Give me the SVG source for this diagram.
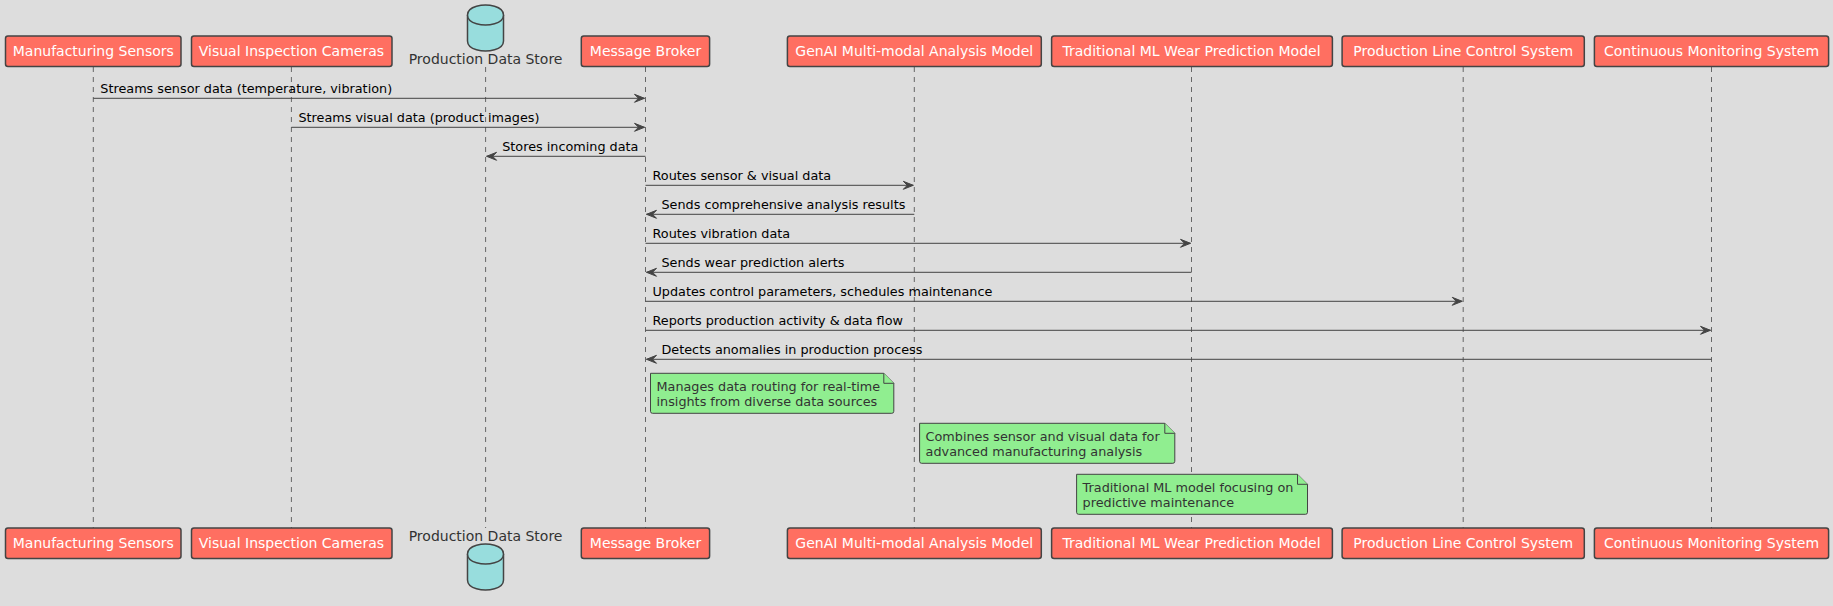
<svg xmlns="http://www.w3.org/2000/svg" width="1833" height="606" viewBox="0 0 1833 606">
<style>
.bg{fill:#DDDDDD}
.part rect{fill:#FF6F61;stroke:#444444;stroke-width:1.5}
.part text{font-family:"DejaVu Sans",sans-serif;font-size:14px;fill:#FFFFFF;text-anchor:middle}
.db path{fill:#98DDDD;stroke:#444444;stroke-width:1.5}
.db text{font-family:"DejaVu Sans",sans-serif;font-size:14px;fill:#333333;text-anchor:middle}
.life{stroke:#666666;stroke-width:1;stroke-dasharray:5,5}
.msg line{stroke:#444444;stroke-width:1;marker-end:url(#ah)}
.msg text{font-family:"DejaVu Sans",sans-serif;font-size:12.8px;fill:#000000}
.note path{fill:#90EE90;stroke:#444444;stroke-width:1}
.note text{font-family:"DejaVu Sans",sans-serif;font-size:12.8px;fill:#333333}
</style>
<defs>
<marker id="ah" markerUnits="userSpaceOnUse" markerWidth="11" markerHeight="9" refX="10" refY="4" orient="auto" overflow="visible">
<path d="M0,0 L10,4 L0,8 L4,4 Z" fill="#444444" stroke="#444444" stroke-width="1"/>
</marker>
</defs>
<rect class="bg" x="0" y="0" width="1833" height="606"/>

<g id="lifelines">
<line class="life" x1="93.3" y1="67" x2="93.3" y2="528"/>
<line class="life" x1="291.4" y1="67" x2="291.4" y2="528"/>
<line class="life" x1="485.6" y1="67" x2="485.6" y2="528"/>
<line class="life" x1="645.5" y1="67" x2="645.5" y2="528"/>
<line class="life" x1="914.3" y1="67" x2="914.3" y2="528"/>
<line class="life" x1="1191.5" y1="67" x2="1191.5" y2="528"/>
<line class="life" x1="1463.2" y1="67" x2="1463.2" y2="528"/>
<line class="life" x1="1711.5" y1="67" x2="1711.5" y2="528"/>
</g>

<g id="sensors" class="part">
<rect x="5.5" y="36" width="175.5" height="30.5" rx="2.5"/>
<text x="93.3" y="56">Manufacturing Sensors</text>
<rect x="5.5" y="528" width="175.5" height="30.5" rx="2.5"/>
<text x="93.3" y="548">Manufacturing Sensors</text>
</g>
<g id="cameras" class="part">
<rect x="191.5" y="36" width="200.5" height="30.5" rx="2.5"/>
<text x="291.4" y="56">Visual Inspection Cameras</text>
<rect x="191.5" y="528" width="200.5" height="30.5" rx="2.5"/>
<text x="291.4" y="548">Visual Inspection Cameras</text>
</g>
<g id="datastore" class="db">
<path d="M467.5,15 C467.5,5 485.5,5 485.5,5 C485.5,5 503.5,5 503.5,15 L503.5,41 C503.5,51 485.5,51 485.5,51 C485.5,51 467.5,51 467.5,41 Z"/>
<path d="M467.5,15 C467.5,25 485.5,25 485.5,25 C485.5,25 503.5,25 503.5,15" fill="none"/>
<text x="485.6" y="64">Production Data Store</text>
<path d="M467.5,554 C467.5,544 485.5,544 485.5,544 C485.5,544 503.5,544 503.5,554 L503.5,580 C503.5,590 485.5,590 485.5,590 C485.5,590 467.5,590 467.5,580 Z"/>
<path d="M467.5,554 C467.5,564 485.5,564 485.5,564 C485.5,564 503.5,564 503.5,554" fill="none"/>
<text x="485.6" y="541">Production Data Store</text>
</g>
<g id="broker" class="part">
<rect x="581.3" y="36" width="128.3" height="30.5" rx="2.5"/>
<text x="645.5" y="56">Message Broker</text>
<rect x="581.3" y="528" width="128.3" height="30.5" rx="2.5"/>
<text x="645.5" y="548">Message Broker</text>
</g>
<g id="genai" class="part">
<rect x="787.4" y="36" width="253.9" height="30.5" rx="2.5"/>
<text x="914.3" y="56">GenAI Multi-modal Analysis Model</text>
<rect x="787.4" y="528" width="253.9" height="30.5" rx="2.5"/>
<text x="914.3" y="548">GenAI Multi-modal Analysis Model</text>
</g>
<g id="tradml" class="part">
<rect x="1051.6" y="36" width="280.8" height="30.5" rx="2.5"/>
<text x="1191.5" y="56">Traditional ML Wear Prediction Model</text>
<rect x="1051.6" y="528" width="280.8" height="30.5" rx="2.5"/>
<text x="1191.5" y="548">Traditional ML Wear Prediction Model</text>
</g>
<g id="plc" class="part">
<rect x="1342.1" y="36" width="242.2" height="30.5" rx="2.5"/>
<text x="1463.2" y="56">Production Line Control System</text>
<rect x="1342.1" y="528" width="242.2" height="30.5" rx="2.5"/>
<text x="1463.2" y="548">Production Line Control System</text>
</g>
<g id="monitor" class="part">
<rect x="1594.4" y="36" width="234.2" height="30.5" rx="2.5"/>
<text x="1711.5" y="56">Continuous Monitoring System</text>
<rect x="1594.4" y="528" width="234.2" height="30.5" rx="2.5"/>
<text x="1711.5" y="548">Continuous Monitoring System</text>
</g>

<g id="connectors" class="msg">
<line x1="93.3" y1="98.3" x2="644.5" y2="98.3"/>
<text x="100.3" y="93.3">Streams sensor data (temperature, vibration)</text>
<line x1="291.4" y1="127.3" x2="644.5" y2="127.3"/>
<text x="298.4" y="122.3">Streams visual data (product images)</text>
<line x1="645.5" y1="156.3" x2="486.6" y2="156.3"/>
<text x="502.2" y="151.3">Stores incoming data</text>
<line x1="645.5" y1="185.3" x2="913.3" y2="185.3"/>
<text x="652.5" y="180.3">Routes sensor &amp; visual data</text>
<line x1="914.3" y1="214.3" x2="646.5" y2="214.3"/>
<text x="661.5" y="209.3">Sends comprehensive analysis results</text>
<line x1="645.5" y1="243.3" x2="1190.5" y2="243.3"/>
<text x="652.5" y="238.3">Routes vibration data</text>
<line x1="1191.5" y1="272.3" x2="646.5" y2="272.3"/>
<text x="661.5" y="267.3">Sends wear prediction alerts</text>
<line x1="645.5" y1="301.3" x2="1462.2" y2="301.3"/>
<text x="652.5" y="296.3">Updates control parameters, schedules maintenance</text>
<line x1="645.5" y1="330.3" x2="1710.5" y2="330.3"/>
<text x="652.5" y="325.3">Reports production activity &amp; data flow</text>
<line x1="1711.5" y1="359.3" x2="646.5" y2="359.3"/>
<text x="661.5" y="354.3">Detects anomalies in production process</text>
</g>

<g id="note1" class="note">
<path d="M650.5,373.3 L650.5,411.3 Q650.5,413.3 652.5,413.3 L891.8,413.3 Q893.8,413.3 893.8,411.3 L893.8,383.3 L883.8,373.3 Z"/>
<path d="M883.8,373.3 L883.8,383.3 L893.8,383.3" fill="none"/>
<text x="656.5" y="391">Manages data routing for real-time</text>
<text x="656.5" y="406">insights from diverse data sources</text>
</g>
<g id="note2" class="note">
<path d="M919.6,423.3 L919.6,461.3 Q919.6,463.3 921.6,463.3 L1172.8,463.3 Q1174.8,463.3 1174.8,461.3 L1174.8,433.3 L1164.8,423.3 Z"/>
<path d="M1164.8,423.3 L1164.8,433.3 L1174.8,433.3" fill="none"/>
<text x="925.6" y="441">Combines sensor and visual data for</text>
<text x="925.6" y="456">advanced manufacturing analysis</text>
</g>
<g id="note3" class="note">
<path d="M1076.6,474.3 L1076.6,512.3 Q1076.6,514.3 1078.6,514.3 L1305.5,514.3 Q1307.5,514.3 1307.5,512.3 L1307.5,484.3 L1297.5,474.3 Z"/>
<path d="M1297.5,474.3 L1297.5,484.3 L1307.5,484.3" fill="none"/>
<text x="1082.6" y="492">Traditional ML model focusing on</text>
<text x="1082.6" y="507">predictive maintenance</text>
</g>
</svg>
